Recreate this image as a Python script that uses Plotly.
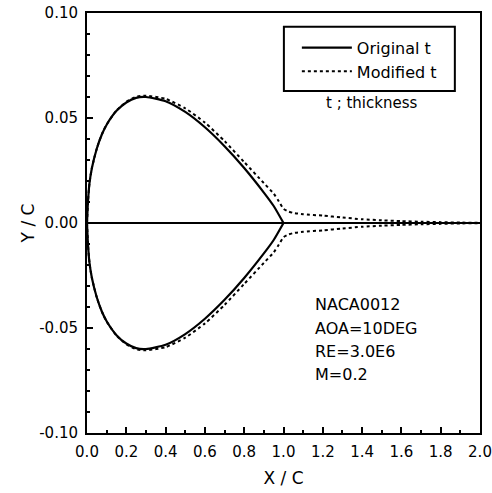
import plotly.graph_objects as go

# Original thickness (NACA0012)
x_orig = [0, 0.005, 0.0125, 0.025, 0.05, 0.075, 0.1, 0.15, 0.2, 0.25, 0.3, 0.4,
          0.5, 0.6, 0.7, 0.8, 0.9, 0.95, 1.0]
y_orig_upper = [0, 0.0101, 0.0189, 0.0262, 0.0355, 0.0420, 0.0468, 0.0534, 0.0574,
                0.0596, 0.0600, 0.0580, 0.0529, 0.0456, 0.0366, 0.0262, 0.0145,
                0.0081, 0.0]
y_orig_lower = [0, -0.0101, -0.0189, -0.0262, -0.0355, -0.0420, -0.0468, -0.0534,
                -0.0574, -0.0596, -0.0600, -0.0580, -0.0529, -0.0456, -0.0366,
                -0.0262, -0.0145, -0.0081, 0.0]

# Modified thickness
x_mod = [0, 0.005, 0.0125, 0.025, 0.05, 0.075, 0.1, 0.15, 0.2, 0.25, 0.3, 0.4,
         0.5, 0.6, 0.7, 0.8, 0.9, 0.95, 0.975, 1.0, 1.025, 1.05, 1.1, 1.2, 1.3,
         1.4, 1.5, 1.6, 1.7, 1.8, 1.9, 2.0]
y_mod_upper = [0, 0.0101, 0.0189, 0.0262, 0.0355, 0.0421, 0.0469, 0.0536, 0.0577,
               0.0601, 0.0606, 0.0591, 0.0546, 0.0478, 0.0390, 0.0290, 0.0190,
               0.0140, 0.0105, 0.0068, 0.0055, 0.0048, 0.0042, 0.0035, 0.0026,
               0.0018, 0.0013, 0.0009, 0.0006, 0.0004, 0.0002, 0.0001]
y_mod_lower = [0, -0.0101, -0.0189, -0.0262, -0.0355, -0.0421, -0.0469, -0.0536,
               -0.0577, -0.0601, -0.0606, -0.0591, -0.0546, -0.0478, -0.0390,
               -0.0290, -0.0190, -0.0140, -0.0105, -0.0068, -0.0055, -0.0048,
               -0.0042, -0.0035, -0.0026, -0.0018, -0.0013, -0.0009, -0.0006,
               -0.0004, -0.0002, -0.0001]

# Chord / wake line
x_chord = [0.0, 2.0]
y_chord = [0.0, 0.0]

x_ticks = [0.0, 0.2, 0.4, 0.6, 0.8, 1.0, 1.2, 1.4, 1.6, 1.8, 2.0]
x_ticktext = ["0.0", "0.2", "0.4", "0.6", "0.8", "1.0", "1.2", "1.4", "1.6", "1.8", "2.0"]
y_ticks = [-0.10, -0.05, 0.00, 0.05, 0.10]
y_ticktext = ["-0.10", "-0.05", "0.00", "0.05", "0.10"]

info_lines = ["NACA0012", "AOA=10DEG", "RE=3.0E6", "M=0.2"]

FONT = "DejaVu Sans, Arial, sans-serif"

fig = go.Figure()
fig.add_trace(go.Scatter(x=x_chord, y=y_chord, mode="lines",
                         line=dict(color="black", width=1.8), showlegend=False,
                         hoverinfo="skip"))
fig.add_trace(go.Scatter(x=x_orig, y=y_orig_upper, mode="lines", name="Original t",
                         line=dict(color="black", width=2.2, shape="spline", smoothing=0.6),
                         legendgroup="o"))
fig.add_trace(go.Scatter(x=x_orig, y=y_orig_lower, mode="lines", name="Original t",
                         line=dict(color="black", width=2.2, shape="spline", smoothing=0.6),
                         legendgroup="o", showlegend=False))
fig.add_trace(go.Scatter(x=x_mod, y=y_mod_upper, mode="lines", name="Modified t",
                         line=dict(color="black", width=2, dash="dot", shape="spline", smoothing=0.6),
                         legendgroup="m"))
fig.add_trace(go.Scatter(x=x_mod, y=y_mod_lower, mode="lines", name="Modified t",
                         line=dict(color="black", width=2, dash="dot", shape="spline", smoothing=0.6),
                         legendgroup="m", showlegend=False))

axis_common = dict(showline=True, linecolor="black", linewidth=2, mirror=True,
                   ticks="inside", ticklen=6, tickwidth=1.5, tickcolor="black",
                   showgrid=False, zeroline=False, automargin=False,
                   ticklabelstandoff=4,
                   tickfont=dict(family=FONT, size=15, color="black"))

fig.update_xaxes(range=[0, 2.0], tickvals=x_ticks, ticktext=x_ticktext,
                 minor=dict(dtick=0.1, ticks="inside", ticklen=3, tickwidth=1.5, tickcolor="black"),
                 title=dict(text="X / C", font=dict(family=FONT, size=17, color="black"), standoff=12),
                 **axis_common)
fig.update_yaxes(range=[-0.10, 0.10], tickvals=y_ticks, ticktext=y_ticktext,
                 minor=dict(dtick=0.01, ticks="inside", ticklen=3, tickwidth=1.5, tickcolor="black"),
                 title=dict(text="Y / C", font=dict(family=FONT, size=17, color="black"), standoff=0),
                 **axis_common)

for i, t in enumerate(info_lines):
    fig.add_annotation(x=0.575, y=0.305 - i * 0.0555, xref="paper", yref="paper",
                       text=t, showarrow=False, xanchor="left", yanchor="middle",
                       font=dict(family=FONT, size=16, color="black"))

fig.add_annotation(x=0.724, y=0.786, xref="paper", yref="paper", text="t ; thickness",
                   showarrow=False, xanchor="center", yanchor="middle",
                   font=dict(family=FONT, size=15, color="black"))

# legend frame
fig.add_shape(type="rect", xref="paper", yref="paper", x0=0.501, x1=0.936,
              y0=0.814, y1=0.967, line=dict(color="black", width=2), fillcolor="rgba(0,0,0,0)")

fig.update_layout(
    width=492, height=493,
    margin=dict(l=87, r=12, t=13, b=60),
    paper_bgcolor="white", plot_bgcolor="white",
    showlegend=True,
    legend=dict(x=0.534, y=0.958, xanchor="left", yanchor="top",
                bgcolor="rgba(0,0,0,0)", borderwidth=0,
                font=dict(family=FONT, size=16, color="black"),
                itemwidth=50, tracegroupgap=0),
)

fig.write_html("out.html")
